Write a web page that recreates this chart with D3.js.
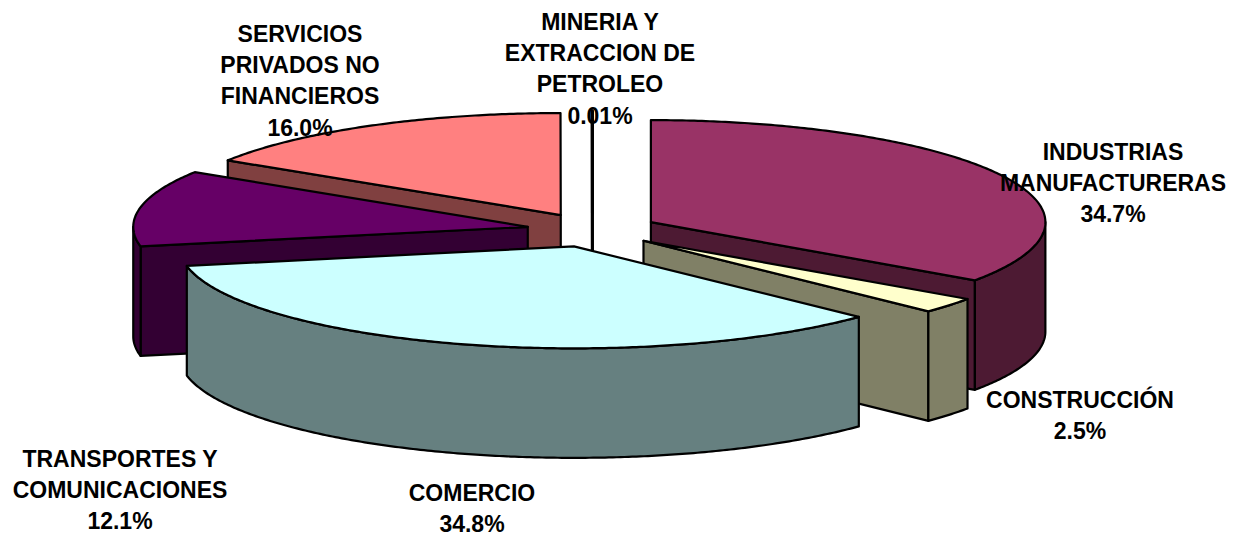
<!DOCTYPE html>
<html><head><meta charset="utf-8">
<script src="https://d3js.org/d3.v7.min.js"></script>
<style>html,body{margin:0;padding:0;background:#fff}svg{display:block}</style>
</head><body><svg id="c" width="1237" height="535"></svg>
<script>
const categories = ["INDUSTRIAS MANUFACTURERAS","CONSTRUCCIÓN","COMERCIO","TRANSPORTES Y COMUNICACIONES","SERVICIOS PRIVADOS NO FINANCIEROS","MINERIA Y EXTRACCION DE PETROLEO"];
const shares = [34.7, 2.5, 34.8, 12.1, 16.0, 0.01];
const shareLabels = ["34.7%","2.5%","34.8%","12.1%","16.0%","0.01%"];
const topColors = ["#993366","#ffffcc","#ccffff","#660066","#ff8080","#ffffff"];
const wallColors = ["#4d1a33","#808066","#668080","#330033","#804040","#808080"];
const labelLines = [["INDUSTRIAS","MANUFACTURERAS"],["CONSTRUCCIÓN"],["COMERCIO"],["TRANSPORTES Y","COMUNICACIONES"],["SERVICIOS","PRIVADOS NO","FINANCIEROS"],["MINERIA Y","EXTRACCION DE","PETROLEO"]];
const labelAnchors = [[1113,160],[1080,408],[472,501],[120,467],[300,42],[600,30]];
const paintOrder = [4,3,5,0,1,2];

const cx=592.5, cy=230, rx=394.5, ry=102, depth=109.5, explode=0.167;
const sx=d3.scaleLinear().domain([-1,1]).range([cx-rx,cx+rx]);
const sy=d3.scaleLinear().domain([-1,1]).range([cy-ry,cy+ry]);
const arcs=d3.pie().sort(null).startAngle(0).endAngle(2*Math.PI)(shares);
const svg=d3.select("#c");
const poly=d3.line().curve(d3.curveLinearClosed);
const HALF=Math.PI/2;

function slicePaths(a){
  const mid=(a.startAngle+a.endAngle)/2;
  const ox=explode*Math.sin(mid), oy=-explode*Math.cos(mid);
  const P=(ang,r,d=0)=>[sx(ox+r*Math.sin(ang)), sy(oy-r*Math.cos(ang))+d];
  const samples=(s,e)=>{const n=Math.max(2,Math.ceil((e-s)/0.01));return d3.range(n+1).map(i=>s+(e-s)*i/n);};
  const A=samples(a.startAngle,a.endAngle).map(t=>P(t,1));
  const top=[P(0,0),...A];
  const radial=t=>[P(0,0),P(t,1),P(t,1,depth),P(0,0,depth)];
  const walls=[];
  if(Math.sin(a.startAngle)<0) walls.push(radial(a.startAngle));
  if(Math.sin(a.endAngle)>1e-9) walls.push(radial(a.endAngle));
  const s=Math.max(a.startAngle,HALF), e=Math.min(a.endAngle,3*HALF);
  if(e>s){
    const f=samples(s,e);
    walls.push([...f.map(t=>P(t,1)),...f.slice().reverse().map(t=>P(t,1,depth))]);
  }
  return {top,walls};
}

const g=svg.append("g").attr("stroke","#000").attr("stroke-width",2.2).attr("stroke-linejoin","round");
paintOrder.forEach(i=>{
  const p=slicePaths(arcs[i]);
  const sg=g.append("g").attr("stroke-width",shares[i]<1?3:null);
  p.walls.forEach(w=>sg.append("path").attr("d",poly(w)).attr("fill",wallColors[i]));
  sg.append("path").attr("d",poly(p.top)).attr("fill",topColors[i]);
});

const lead=31.2;
const t=svg.append("g").attr("font-family","'Liberation Sans',Arial,sans-serif").attr("font-weight","bold").attr("font-size",23).attr("text-anchor","middle").attr("fill","#000");
categories.forEach((c,i)=>{
  const lines=[...labelLines[i],shareLabels[i]];
  const [x,y]=labelAnchors[i];
  lines.forEach((l,j)=>t.append("text").attr("x",x).attr("y",y+j*lead).text(l));
});
</script></body></html>
